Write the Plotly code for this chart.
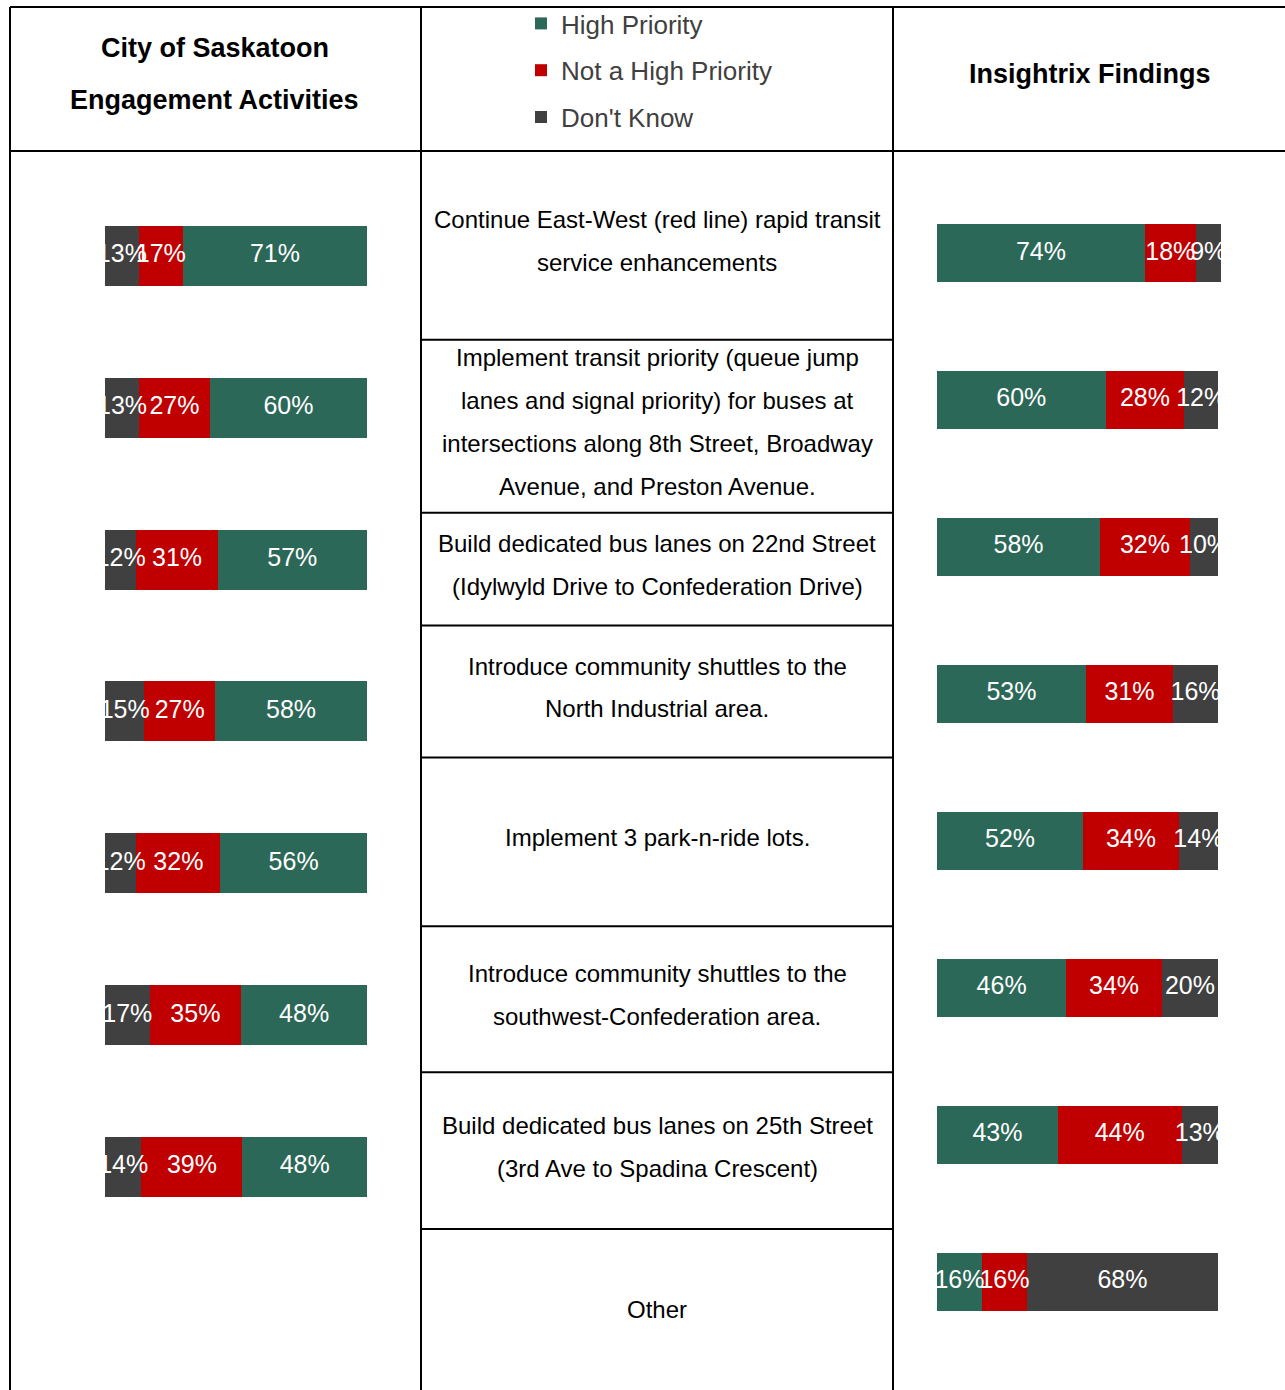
import plotly.graph_objects as go

# ---- data -------------------------------------------------------------
ITEMS = [
    "Continue East-West rapid transit",
    "Implement transit priority",
    "Dedicated bus lanes on 22nd Street",
    "Shuttles to the North Industrial area",
    "Implement 3 park-n-ride lots",
    "Shuttles to the southwest-Confederation area",
    "Dedicated bus lanes on 25th Street",
    "Other",
]
ITEM_LINES = [
    ["Continue East-West (red line) rapid transit", "service enhancements"],
    ["Implement transit priority (queue jump", "lanes and signal priority) for buses at",
     "intersections along 8th Street, Broadway", "Avenue, and Preston Avenue."],
    ["Build dedicated bus lanes on 22nd Street", "(Idylwyld Drive to Confederation Drive)"],
    ["Introduce community shuttles to the", "North Industrial area."],
    ["Implement 3 park-n-ride lots."],
    ["Introduce community shuttles to the", "southwest-Confederation area."],
    ["Build dedicated bus lanes on 25th Street", "(3rd Ave to Spadina Crescent)"],
    ["Other"],
]

SERIES = ["High Priority", "Not a High Priority", "Don't Know"]

# City of Saskatoon engagement activities (no "Other" row)
COS_HIGH = [71, 60, 57, 58, 56, 48, 48]
COS_NOT = [17, 27, 31, 27, 32, 35, 39]
COS_DK = [13, 13, 12, 15, 12, 17, 14]

# Insightrix findings
INS_HIGH = [74, 60, 58, 53, 52, 46, 43, 16]
INS_NOT = [18, 28, 32, 31, 34, 34, 44, 16]
INS_DK = [9, 12, 10, 16, 14, 20, 13, 68]

COLORS = {"High Priority": "#2C6857", "Not a High Priority": "#C00000", "Don't Know": "#404040"}

# ---- page geometry (pixels) -------------------------------------------
W, H = 1285, 1390
def px(x):
    return x / W
def py(y):
    return 1 - y / H

SANS = "Liberation Sans, Arial, sans-serif"
BAR_FONT = dict(family=SANS, size=25, color="white")

fig = go.Figure()


def add_stack(order, values, cats, xa, ya, legend, normalise):
    """Stacked horizontal bars, with value labels drawn above every segment."""
    totals = [sum(v[i] for v in values.values()) for i in range(len(cats))]
    left = [0.0] * len(cats)
    label_x, label_y, label_t = [], [], []
    for name in order:
        vals = values[name]
        widths = [v / t * 100 if normalise else v for v, t in zip(vals, totals)]
        fig.add_trace(go.Bar(
            y=cats, x=widths, orientation="h", name=name,
            legendgroup=name, showlegend=legend,
            marker=dict(color=COLORS[name], line=dict(width=0)),
            xaxis=xa, yaxis=ya, hoverinfo="skip",
        ))
        for i, w in enumerate(widths):
            label_x.append(left[i] + w / 2)
            label_y.append(cats[i])
            label_t.append(f"{vals[i]}%")
            left[i] += w
    return label_x, label_y, label_t


# Insightrix: High / Not high / Don't know, left to right
ins_labels = add_stack(
    SERIES,
    {"High Priority": INS_HIGH, "Not a High Priority": INS_NOT, "Don't Know": INS_DK},
    ITEMS, "x2", "y2", True, False)

# City of Saskatoon: 100% stacked, Don't know / Not high / High, left to right
cos_labels = add_stack(
    ["Don't Know", "Not a High Priority", "High Priority"],
    {"Don't Know": COS_DK, "Not a High Priority": COS_NOT, "High Priority": COS_HIGH},
    ITEMS[:len(COS_HIGH)], "x", "y", False, True)

for (lx, ly, lt), xa, ya in ((cos_labels, "x", "y"), (ins_labels, "x2", "y2")):
    fig.add_trace(go.Scatter(
        x=lx, y=ly, text=lt, mode="text", textposition="middle center",
        textfont=BAR_FONT, cliponaxis=True, showlegend=False,
        xaxis=xa, yaxis=ya, hoverinfo="skip",
    ))

hidden = dict(showgrid=False, zeroline=False, showticklabels=False, showline=False, ticks="")

# ---- table rules ---------------------------------------------------------
LINE = dict(color="black", width=2)
shapes = [
    dict(type="line", xref="paper", yref="paper", x0=px(10), x1=px(1285), y0=py(6), y1=py(6), line=LINE),
    dict(type="line", xref="paper", yref="paper", x0=px(10), x1=px(1285), y0=py(150), y1=py(150), line=LINE),
]
for xv in (10, 421, 893):
    shapes.append(dict(type="line", xref="paper", yref="paper", x0=px(xv), x1=px(xv),
                       y0=py(6), y1=py(1390), line=LINE))
# the last row of the table runs past the bottom of the page
ROW_EDGES = [150, 339, 512, 625, 757, 926, 1072, 1229, 1398]
for yv in ROW_EDGES[1:-1]:
    shapes.append(dict(type="line", xref="paper", yref="paper", x0=px(421), x1=px(893),
                       y0=py(yv), y1=py(yv), line=LINE))

# ---- text ----------------------------------------------------------------
annotations = []
HEAD_FONT = dict(family=SANS, size=27, color="black")
for txt, yv in (("City of Saskatoon", 47), ("Engagement Activities", 99)):
    annotations.append(dict(text=f"<b>{txt}</b>", x=px(215), y=py(yv), xref="paper", yref="paper",
                            showarrow=False, xanchor="center", yanchor="middle", font=HEAD_FONT))
annotations.append(dict(text="<b>Insightrix Findings</b>", x=px(1090), y=py(73), xref="paper",
                        yref="paper", showarrow=False, xanchor="center", yanchor="middle",
                        font=HEAD_FONT))

LINE_STEP = 43
for i, lines in enumerate(ITEM_LINES):
    top, bot = ROW_EDGES[i], ROW_EDGES[i + 1]
    mid = (top + bot) / 2 - 4
    n = len(lines)
    for j, ln in enumerate(lines):
        yv = mid + (j - (n - 1) / 2) * LINE_STEP
        annotations.append(dict(text=ln, x=px(657), y=py(yv), xref="paper", yref="paper",
                                showarrow=False, xanchor="center", yanchor="middle",
                                font=dict(family=SANS, size=24, color="black")))

fig.update_layout(
    width=W, height=H,
    margin=dict(l=0, r=0, t=0, b=0),
    paper_bgcolor="white", plot_bgcolor="white",
    barmode="stack", bargap=0.605,
    xaxis=dict(domain=[px(105), px(367)], range=[0, 100], anchor="y", **hidden),
    yaxis=dict(domain=[py(1243), py(179)], autorange="reversed", anchor="x", **hidden),
    xaxis2=dict(domain=[px(937), px(1222)], range=[0, 101.4], anchor="y2", **hidden),
    yaxis2=dict(domain=[py(1355), py(179)], autorange="reversed", anchor="x2", **hidden),
    showlegend=True,
    legend=dict(x=px(521), y=py(-1), xanchor="left", yanchor="top",
                traceorder="grouped", tracegroupgap=10,
                font=dict(family=SANS, size=26, color="#404040"),
                bgcolor="rgba(0,0,0,0)", borderwidth=0),
    shapes=shapes,
    annotations=annotations,
)

fig.write_html("out.html")
